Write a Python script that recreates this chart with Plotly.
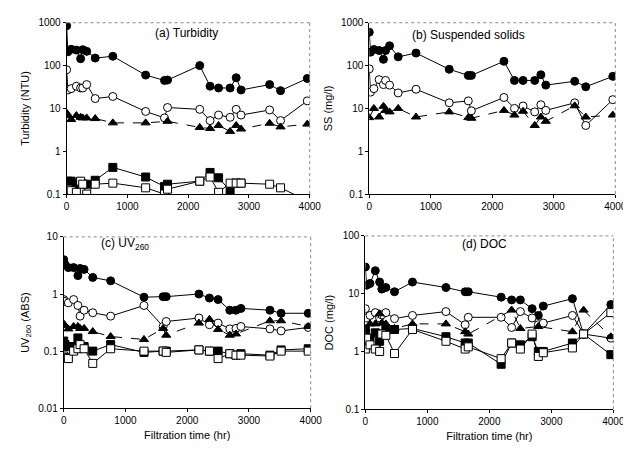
import math
import plotly.graph_objects as go

# ---- data ----
T_HOURS = [0, 20, 75, 160, 230, 265, 330, 470, 760, 1300, 1610, 1660, 2190, 2360, 2500, 2690, 2790, 2870, 3340, 3520, 3960]

TURB_FC = [850, 210, 240, 230, 145, 235, 215, 150, 165, 60, 45, 46, 100, 33, 30, 30, 52, 27, 36, 26, 50]
TURB_OC = [80, 27, 29, 33, 30, 30, 36, 17, 19, 8.5, 6, 10.5, 9.5, 5.2, 7, 6.2, 9.5, 7, 9.2, 5.2, 15]
TURB_TRI = [7.8, 6.8, 5.5, 6.8, 6.2, 6.0, 6.0, 5.8, 4.6, 4.6, None, 5.0, 3.6, 3.4, 4.0, 2.9, 4.0, 3.3, 4.5, 3.7, 4.3]
TURB_FS = [0.17, 0.2, 0.2, 0.17, 0.19, 0.17, 0.17, 0.21, 0.42, 0.25, 0.15, 0.17, 0.2, 0.32, 0.24, 0.12, 0.18, 0.18, None, None, None]
TURB_OS = [0.12, 0.13, 0.12, 0.11, 0.2, 0.17, 0.1, 0.17, 0.18, 0.14, 0.1, 0.13, 0.2, 0.25, 0.11, 0.18, 0.18, 0.18, 0.17, 0.14, 0.07]

SS_FC = [600, 206, 237, 225, 140, 225, 290, 160, 196, 82, 59, 59, 126, 45, 45, 45, 61, 35, 43, 32, 56]
SS_OC = [84, 24, 29, 47, 36, 45, 35, 23, 28, 13.5, 15, 8.8, 18, 10, 11.4, 8.3, 12.2, 9, 13.5, 4, 16]
SS_TRI = [6.1, None, 10, 6.3, 11.2, 9, 8.3, 10, 6.3, 8.3, 6.1, 5.9, 9, 7, 8.6, 4, 6.3, 5, 11.5, 6.3, 7]

UV_FC = [4.0, 3.3, 2.9, 2.9, 2.1, 2.8, 2.7, 1.95, 1.7, 0.88, 0.9, 0.9, 1.0, 0.85, 0.8, 0.52, 0.52, 0.56, 0.52, 0.46, 0.46]
UV_OC = [0.8, 0.74, 0.7, 0.8, 0.63, 0.41, 0.52, 0.47, 0.41, 0.63, 0.27, 0.33, 0.38, 0.29, 0.31, 0.245, 0.25, 0.27, 0.245, 0.226, 0.26]
UV_TRI = [0.3, 0.28, 0.245, 0.27, 0.27, 0.25, 0.25, 0.22, 0.18, 0.16, 0.25, 0.19, 0.31, 0.36, 0.24, 0.19, 0.2, None, 0.34, 0.34, 0.27]
UV_FS = [0.15, 0.13, 0.12, 0.12, 0.17, 0.12, 0.12, 0.10, 0.13, 0.095, 0.1, 0.1, 0.105, 0.1, 0.1, 0.09, 0.085, 0.09, 0.085, 0.105, 0.11]
UV_OS = [0.082, 0.077, 0.074, 0.1, 0.11, 0.13, 0.11, 0.061, 0.11, 0.1, 0.1, 0.095, 0.105, 0.1, 0.074, 0.09, 0.085, 0.085, 0.082, 0.1, 0.1]

DOC_FC = [29, 14, 15, 25, 15.9, 12, 12.8, 10.8, 15.9, 12.8, 10.8, 10.8, 8.7, 7.8, 7.8, 5.5, 4.2, 6.1, 8.2, 2.0, 6.5]
DOC_OC = [5.5, 3.8, 4.2, 4.7, 3.8, 4.3, 4.7, 3.7, 4.2, 4.9, 2.9, 3.9, 3.9, 2.6, 4.9, 3.8, 2.9, 3.1, 4.2, 2.0, 1.7]
DOC_TRI = [2.5, None, 3.0, 3.0, 4.5, 3.1, 3.0, 2.5, 3.0, 3.0, 2.2, 2.0, None, 5.2, 2.5, None, 2.7, None, 2.2, 5.2, 1.8]
DOC_FS = [2.3, 1.3, 1.7, 2.1, 1.5, 2.0, 2.3, 2.4, 2.5, 1.8, 1.4, 1.4, 0.6, 1.4, 1.3, 1.8, 1.0, 1.0, 1.4, 2.0, 0.88]
DOC_OS = [1.1, 1.7, 1.3, 1.1, 1.0, 2.0, 1.9, 0.92, 2.4, 1.5, 1.1, 1.2, 0.75, 1.4, 1.1, 2.0, 0.82, 0.95, 1.15, 2.0, 4.7]

X_TICKS = [0, 1000, 2000, 3000, 4000]
PANEL_TITLES = ["(a) Turbidity", "(b) Suspended solids", "(c) UV<sub>260</sub>", "(d) DOC"]
Y_TITLES = ["Turbidity (NTU)", "SS (mg/l)", "UV<sub>260</sub> (ABS)", "DOC (mg/l)"]
Y_TICKS_A = [0.1, 1, 10, 100, 1000]
Y_TICKS_C = [0.01, 0.1, 1, 10]
Y_TICKS_D = [0.1, 1, 10, 100]
X_TITLE = "Filtration time (hr)"

W, H = 631, 451
FONT = "Liberation Sans, Arial, sans-serif"

# pixel layout of the four plot areas (left, right, top, bottom)
boxes = [(57, 306, 9, 185), (367, 619, 9, 185), (54, 307, 229, 405), (363, 617, 228, 406)]
# panel title centres in pixels
title_pos = [(180, 20), (469, 22), (117, 236), (485, 236)]

fig = go.Figure()

styles = {
    "fc": dict(symbol="circle", color="black", dash="solid"),
    "oc": dict(symbol="circle", color="white", dash="solid"),
    "tri": dict(symbol="triangle-up", color="black", dash="dash"),
    "fs": dict(symbol="square", color="black", dash="solid"),
    "os": dict(symbol="square", color="white", dash="solid"),
}

panels = [
    [("fc", TURB_FC), ("oc", TURB_OC), ("tri", TURB_TRI), ("fs", TURB_FS), ("os", TURB_OS)],
    [("fc", SS_FC), ("oc", SS_OC), ("tri", SS_TRI)],
    [("fc", UV_FC), ("oc", UV_OC), ("tri", UV_TRI), ("fs", UV_FS), ("os", UV_OS)],
    [("fc", DOC_FC), ("oc", DOC_OC), ("tri", DOC_TRI), ("fs", DOC_FS), ("os", DOC_OS)],
]
yticks = [Y_TICKS_A, Y_TICKS_A, Y_TICKS_C, Y_TICKS_D]


def fmt(v):
    return "%g" % v


for i, series in enumerate(panels):
    n = i + 1
    xa = "x" if n == 1 else "x%d" % n
    ya = "y" if n == 1 else "y%d" % n
    for key, vals in series:
        s = styles[key]
        fig.add_trace(go.Scatter(
            x=T_HOURS, y=vals, xaxis=xa, yaxis=ya, mode="lines+markers",
            connectgaps=True, cliponaxis=True,
            line=dict(color="black", width=1, dash=s["dash"]),
            marker=dict(symbol=s["symbol"], size=8, color=s["color"],
                        line=dict(color="black", width=1)),
            showlegend=False, hoverinfo="skip"))
    l, r, t, b = boxes[i]
    xdom = [l / W, r / W]
    ydom = [1 - b / H, 1 - t / H]
    tv = yticks[i]
    axx = dict(domain=xdom, range=[0, 4000], tickvals=X_TICKS, ticktext=[str(v) for v in X_TICKS],
               showline=True, linecolor="black", linewidth=1, ticks="outside", ticklen=3,
               tickcolor="black", showgrid=False, zeroline=False, anchor=ya,
               tickfont=dict(family=FONT, size=10, color="black"))
    if i >= 2:
        axx["title"] = dict(text=X_TITLE, font=dict(family=FONT, size=11, color="black"), standoff=6)
    axy = dict(domain=ydom, type="log", range=[math.log10(tv[0]), math.log10(tv[-1])],
               tickvals=tv, ticktext=[fmt(v) for v in tv],
               showline=True, linecolor="black", linewidth=1, ticks="outside", ticklen=3,
               tickcolor="black", showgrid=False, zeroline=False, anchor=xa,
               tickfont=dict(family=FONT, size=10, color="black"),
               title=dict(text=Y_TITLES[i], font=dict(family=FONT, size=11, color="black"), standoff=6))
    fig.update_layout(**{("xaxis" if n == 1 else "xaxis%d" % n): axx,
                         ("yaxis" if n == 1 else "yaxis%d" % n): axy})
    # dotted grey frame on top/right
    fig.add_shape(type="line", xref="paper", yref="paper", x0=xdom[0], x1=xdom[1], y0=ydom[1], y1=ydom[1],
                  line=dict(color="#888", width=1, dash="dot"))
    fig.add_shape(type="line", xref="paper", yref="paper", x0=xdom[1], x1=xdom[1], y0=ydom[0], y1=ydom[1],
                  line=dict(color="#888", width=1, dash="dot"))
    tx, ty = title_pos[i]
    fig.add_annotation(text=PANEL_TITLES[i], xref="paper", yref="paper",
                       x=tx / W, y=1 - ty / H, xanchor="center", yanchor="middle", showarrow=False,
                       font=dict(family=FONT, size=12, color="black"))

fig.update_layout(width=W, height=H, margin=dict(l=0, r=0, t=0, b=0),
                  paper_bgcolor="white", plot_bgcolor="white", showlegend=False)

fig.write_html("out.html")
